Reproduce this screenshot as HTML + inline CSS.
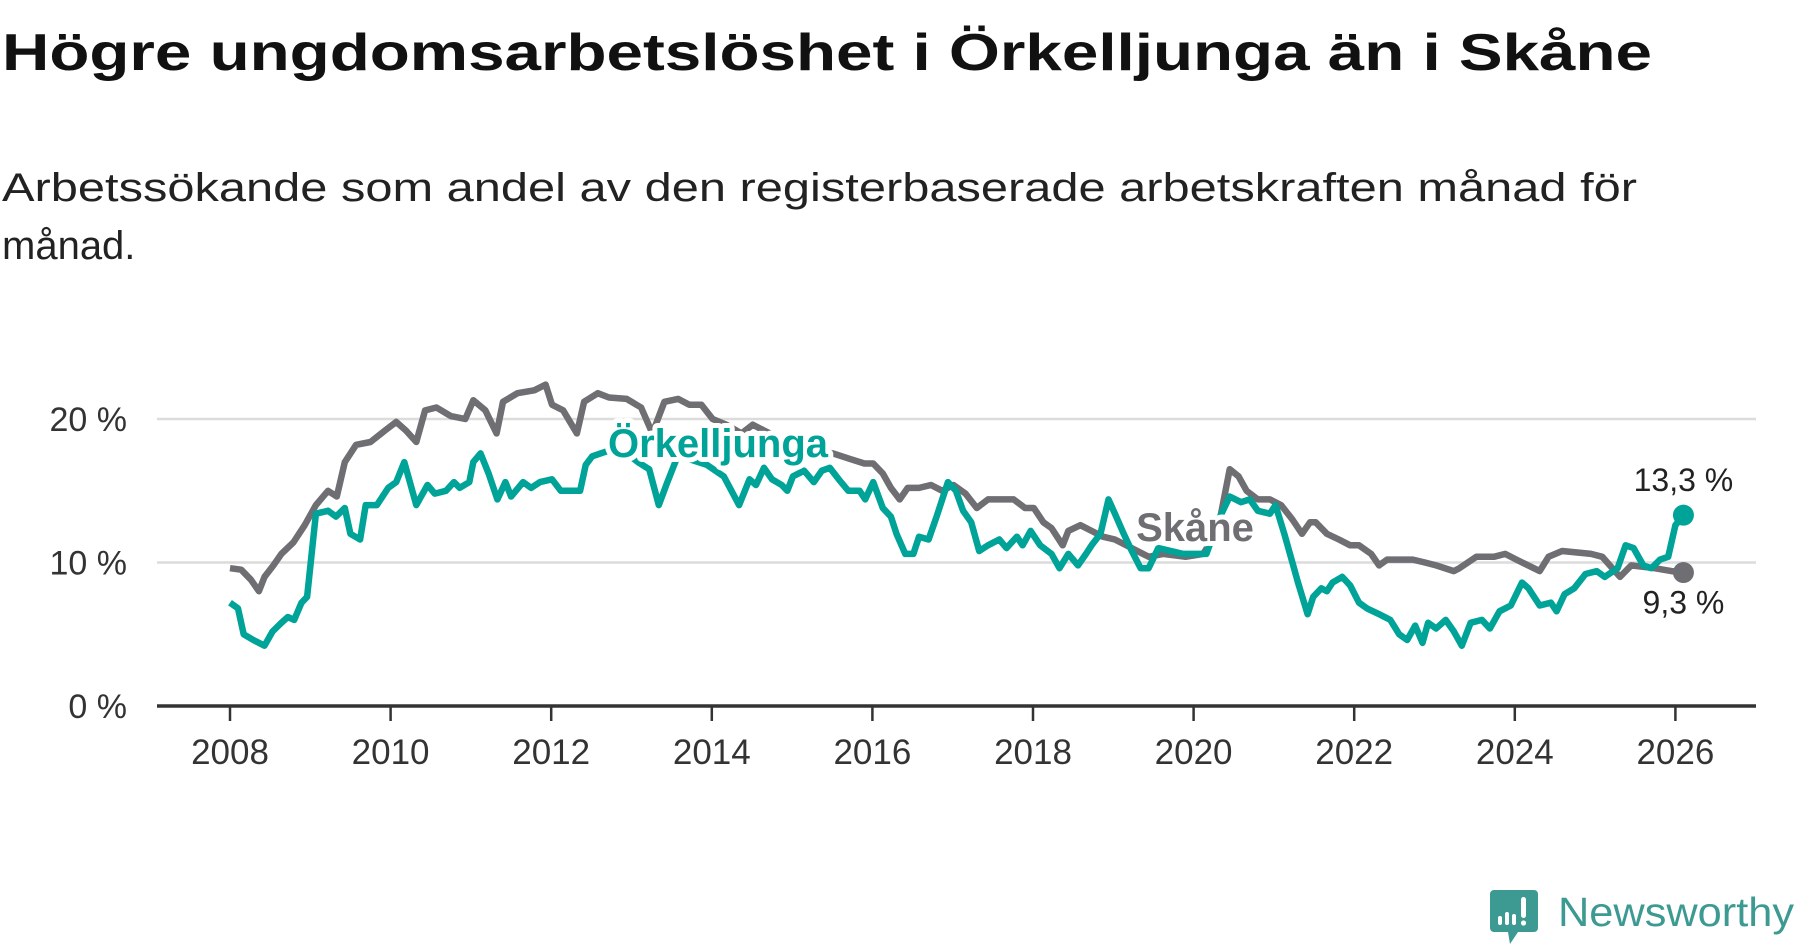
<!DOCTYPE html>
<html><head><meta charset="utf-8"><style>
html,body{margin:0;padding:0;background:#fff;}
svg{display:block;font-family:"Liberation Sans","DejaVu Sans",sans-serif;}
</style></head><body>
<svg id="chart" width="1800" height="948" viewBox="0 0 1800 948">
<text x="2" y="70" font-size="52" font-weight="bold" fill="#111" textLength="1650" lengthAdjust="spacingAndGlyphs">Högre ungdomsarbetslöshet i Örkelljunga än i Skåne</text>
<text x="2" y="201" font-size="40" fill="#222" textLength="1635" lengthAdjust="spacingAndGlyphs">Arbetssökande som andel av den registerbaserade arbetskraften månad för</text>
<text x="2" y="259" font-size="40" fill="#222">månad.</text>
<g id="grid"></g>
<g id="axes"></g>
<g id="series"></g>
<g id="labels"></g>
<g>
<path d="M1494 890 h40 a4 4 0 0 1 4 4 v34 a4 4 0 0 1 -4 4 h-16 l-8 12 l-2 -12 h-14 a4 4 0 0 1 -4 -4 v-34 a4 4 0 0 1 4 -4z" fill="#3d9a92"/>
<rect x="1498" y="916" width="4" height="9" rx="2" fill="#fff"/><rect x="1505" y="912" width="4" height="13" rx="2" fill="#fff"/><rect x="1512" y="914" width="4" height="11" rx="2" fill="#fff"/><rect x="1521" y="897" width="5" height="21" rx="2.5" fill="#fff"/><circle cx="1523.5" cy="923" r="2.6" fill="#fff"/>
<text x="1558" y="926" font-size="41" fill="#3d9a92" textLength="236" lengthAdjust="spacingAndGlyphs">Newsworthy</text>
</g>
</svg>
<script>
const yTicks = [0, 10, 20];
const yTickLabels = ["0 %", "10 %", "20 %"];
const xTicks = [2008, 2010, 2012, 2014, 2016, 2018, 2020, 2022, 2024, 2026];
const skaneYears = [2008.00,2008.14,2008.26,2008.36,2008.43,2008.54,2008.64,2008.79,2008.93,2009.07,2009.22,2009.33,2009.43,2009.57,2009.75,2009.93,2010.07,2010.19,2010.32,2010.43,2010.57,2010.75,2010.93,2011.03,2011.18,2011.32,2011.40,2011.58,2011.79,2011.93,2012.01,2012.15,2012.32,2012.41,2012.58,2012.72,2012.94,2013.12,2013.26,2013.41,2013.58,2013.72,2013.87,2014.01,2014.18,2014.37,2014.51,2014.65,2014.87,2015.08,2015.30,2015.51,2015.73,2015.90,2016.01,2016.13,2016.23,2016.34,2016.44,2016.58,2016.73,2016.87,2017.01,2017.16,2017.30,2017.44,2017.58,2017.76,2017.90,2018.01,2018.13,2018.23,2018.37,2018.44,2018.59,2018.73,2018.87,2019.02,2019.23,2019.44,2019.62,2019.90,2020.12,2020.30,2020.45,2020.56,2020.66,2020.80,2020.95,2021.09,2021.23,2021.35,2021.45,2021.52,2021.66,2021.81,2021.95,2022.06,2022.21,2022.31,2022.41,2022.73,2022.88,2023.02,2023.24,2023.31,2023.52,2023.74,2023.88,2024.02,2024.31,2024.42,2024.59,2024.95,2025.09,2025.31,2025.45,2025.74,2025.95,2026.10];
const skaneValues = [9.6,9.5,8.8,8.0,9.0,9.8,10.6,11.4,12.6,14.0,15.0,14.6,17.0,18.2,18.4,19.2,19.8,19.2,18.4,20.6,20.8,20.2,20.0,21.3,20.6,19.0,21.2,21.8,22.0,22.4,21.0,20.6,19.0,21.2,21.8,21.5,21.4,20.8,19.0,21.2,21.4,21.0,21.0,20.0,19.6,19.0,19.6,19.2,18.6,18.2,17.8,17.6,17.2,16.9,16.9,16.2,15.2,14.4,15.2,15.2,15.4,15.0,15.4,14.8,13.8,14.4,14.4,14.4,13.8,13.8,12.8,12.4,11.2,12.2,12.6,12.2,11.8,11.6,11.0,10.4,10.6,10.4,10.6,12.2,16.5,16.0,15.0,14.4,14.4,14.0,13.0,12.0,12.8,12.8,12.0,11.6,11.2,11.2,10.6,9.8,10.2,10.2,10.0,9.8,9.4,9.6,10.4,10.4,10.6,10.2,9.4,10.4,10.8,10.6,10.4,9.0,9.8,9.6,9.4,9.3];
const orkYears = [2008.00,2008.10,2008.17,2008.29,2008.43,2008.53,2008.64,2008.72,2008.80,2008.89,2008.96,2009.07,2009.22,2009.32,2009.43,2009.50,2009.62,2009.69,2009.83,2009.97,2010.07,2010.17,2010.32,2010.46,2010.55,2010.69,2010.79,2010.86,2010.98,2011.03,2011.12,2011.22,2011.33,2011.43,2011.50,2011.65,2011.75,2011.86,2012.01,2012.12,2012.26,2012.36,2012.43,2012.51,2012.72,2012.94,2013.08,2013.22,2013.34,2013.44,2013.58,2013.72,2013.94,2014.15,2014.34,2014.47,2014.55,2014.65,2014.75,2014.87,2014.94,2015.01,2015.15,2015.27,2015.37,2015.47,2015.58,2015.70,2015.84,2015.91,2016.01,2016.13,2016.23,2016.30,2016.41,2016.51,2016.58,2016.70,2016.80,2016.94,2017.04,2017.13,2017.23,2017.33,2017.44,2017.58,2017.67,2017.80,2017.87,2017.97,2018.09,2018.23,2018.33,2018.44,2018.56,2018.66,2018.73,2018.84,2018.94,2019.02,2019.13,2019.23,2019.34,2019.44,2019.56,2019.87,2020.16,2020.33,2020.45,2020.59,2020.70,2020.80,2020.95,2021.02,2021.13,2021.23,2021.30,2021.42,2021.49,2021.59,2021.66,2021.73,2021.85,2021.95,2022.06,2022.16,2022.31,2022.45,2022.56,2022.66,2022.76,2022.85,2022.92,2023.02,2023.14,2023.24,2023.34,2023.45,2023.59,2023.69,2023.81,2023.95,2024.09,2024.17,2024.31,2024.45,2024.52,2024.62,2024.74,2024.88,2025.02,2025.12,2025.28,2025.38,2025.48,2025.60,2025.70,2025.81,2025.91,2026.00,2026.10];
const orkValues = [7.2,6.8,5.0,4.6,4.2,5.2,5.8,6.2,6.0,7.2,7.6,13.4,13.6,13.2,13.8,12.0,11.6,14.0,14.0,15.2,15.6,17.0,14.0,15.4,14.8,15.0,15.6,15.2,15.6,17.0,17.6,16.2,14.4,15.6,14.6,15.6,15.2,15.6,15.8,15.0,15.0,15.0,16.8,17.4,17.8,17.6,17.0,16.5,14.0,15.5,17.5,17.2,16.8,16.0,14.0,15.8,15.4,16.6,15.8,15.4,15.0,16.0,16.4,15.6,16.4,16.6,15.8,15.0,15.0,14.4,15.6,13.8,13.2,12.0,10.6,10.6,11.8,11.6,13.2,15.6,15.0,13.6,12.8,10.8,11.2,11.6,11.0,11.8,11.2,12.2,11.2,10.6,9.6,10.6,9.8,10.6,11.2,12.0,14.4,13.4,12.0,10.8,9.6,9.6,11.0,10.6,10.6,13.2,14.6,14.2,14.4,13.6,13.4,14.0,12.0,10.0,8.6,6.4,7.6,8.2,8.0,8.6,9.0,8.4,7.2,6.8,6.4,6.0,5.0,4.6,5.6,4.4,5.8,5.4,6.0,5.2,4.2,5.8,6.0,5.4,6.6,7.0,8.6,8.2,7.0,7.2,6.6,7.8,8.2,9.2,9.4,9.0,9.6,11.2,11.0,9.8,9.6,10.2,10.4,12.6,13.3];

const NS = "http://www.w3.org/2000/svg";
const X0 = 230, PXYR = 80.3, Y0 = 706, PXPCT = 14.35;
const xs = y => X0 + (y - 2008) * PXYR;
const ys = v => Y0 - v * PXPCT;
function mk(tag, attrs, parent){ const e = document.createElementNS(NS, tag); for (const k in attrs) e.setAttribute(k, attrs[k]); parent.appendChild(e); return e; }
const grid = document.getElementById('grid'), axes = document.getElementById('axes'), series = document.getElementById('series'), labels = document.getElementById('labels');

yTicks.forEach((t, i) => {
  if (t > 0) {
    const g = mk('line', {x1:157, x2:1756, y1:ys(t), y2:ys(t), stroke:'#dcdcdc', 'stroke-width':2.5}, grid);
    
    
  }
  const tx = mk('text', {x:127, y:ys(t)+12, 'font-size':34, fill:'#333', 'text-anchor':'end'}, axes);
  tx.textContent = yTickLabels[i];
  
  
});
const ax = mk('line', {x1:157, x2:1756, y1:Y0, y2:Y0, stroke:'#333', 'stroke-width':3.5}, axes);


xTicks.forEach(t => {
  const tk = mk('line', {x1:xs(t), x2:xs(t), y1:Y0, y2:Y0+15, stroke:'#333', 'stroke-width':2.5}, axes);
  
  
  const tl = mk('text', {x:xs(t), y:764, 'font-size':35, fill:'#333', 'text-anchor':'middle'}, axes);
  tl.textContent = t;
  
  
});
function line(yrs, vals, color, name){
  const d = yrs.map((y, i) => (i ? 'L' : 'M') + xs(y).toFixed(1) + ' ' + ys(vals[i]).toFixed(1)).join(' ');
  const p = mk('path', {d:d, fill:'none', stroke:color, 'stroke-width':6.5, 'stroke-linejoin':'round'}, series);
  
  
  const n = yrs.length - 1;
  const c = mk('circle', {cx:xs(yrs[n]), cy:ys(vals[n]), r:10.5, fill:color}, series);
  
  
}
line(skaneYears, skaneValues, '#6e6e73', 'skane-line');
line(orkYears, orkValues, '#00a398', 'orkelljunga-line');

function lab(txt, x, y, color, size, bold, halo, name){
  const t = mk('text', {x:x, y:y, 'font-size':size, fill:color, 'text-anchor':'middle', 'font-weight':bold ? 'bold' : 'normal'}, labels);
  if (halo) { t.setAttribute('stroke', '#fff'); t.setAttribute('stroke-width', 10); t.setAttribute('paint-order', 'stroke'); t.setAttribute('stroke-linejoin','round'); }
  t.textContent = txt;
  
  
}
lab('Örkelljunga', 718, 457, '#00a398', 40, true, true, 'orkelljunga-label');
lab('Skåne', 1195, 541, '#6e6e73', 40, true, true, 'skane-label');
const nO = orkValues.length - 1, nS = skaneValues.length - 1;
lab(orkValues[nO].toFixed(1).replace('.', ',') + ' %', xs(orkYears[nO]), ys(orkValues[nO]) - 24, '#222', 32, false, true, 'orkelljunga-end-value');
lab(skaneValues[nS].toFixed(1).replace('.', ',') + ' %', xs(skaneYears[nS]), ys(skaneValues[nS]) + 41, '#222', 32, false, true, 'skane-end-value');
</script>
</body></html>
